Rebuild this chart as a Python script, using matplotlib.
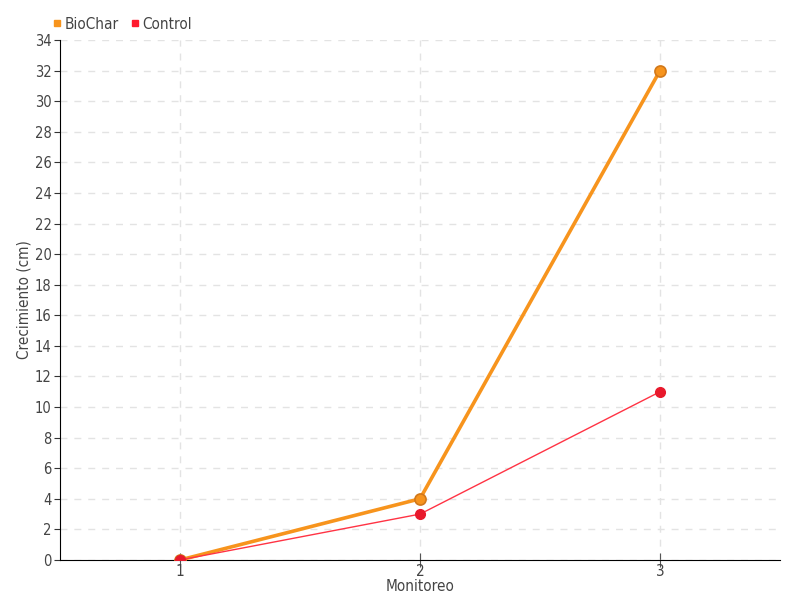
import matplotlib
matplotlib.use("Agg")
import matplotlib.pyplot as plt
from matplotlib.lines import Line2D

plt.rcParams["font.family"] = ["DejaVu Sans"]
plt.rcParams["font.stretch"] = "condensed"

monitoreo = [1, 2, 3]
biochar = [0, 4, 32]
control = [0, 3, 11]
y_ticks = list(range(0, 35, 2))

fig = plt.figure(figsize=(8, 6), dpi=100)
ax = fig.add_axes([0.075, 0.0667, 0.9, 0.8666])

ax.plot(monitoreo, biochar, color="#f7941d", linewidth=2.6, marker="o", markersize=8,
        markerfacecolor="#f7941d", markeredgecolor="#d2781a", markeredgewidth=1.2, zorder=3)
ax.plot(monitoreo, control, color="#ff3344", linewidth=1, marker="o", markersize=7,
        markerfacecolor="#e8192c", markeredgecolor="#e8192c", zorder=4)

ax.set_xlim(0.5, 3.5)
ax.set_ylim(0, 34)
ax.set_xticks(monitoreo)
ax.set_yticks(y_ticks)
ax.grid(True, color="#e3e3e3", linestyle=(0, (5, 5)), linewidth=1)
ax.set_axisbelow(True)
for s in ("top", "right"):
    ax.spines[s].set_visible(False)
ax.spines["left"].set_color("black")
ax.spines["bottom"].set_color("black")
ax.tick_params(axis="x", direction="inout", length=10, color="#555555", labelsize=11,
               labelcolor="#444444", pad=-2)
ax.tick_params(axis="y", direction="out", length=4, color="#333333", labelsize=10.5,
               labelcolor="#444444", pad=2)

ax.set_xlabel("Monitoreo", fontsize=11, color="#444444", labelpad=0)
ax.set_ylabel("Crecimiento (cm)", fontsize=11, color="#444444", labelpad=2)

handles = [
    Line2D([], [], linestyle="none", marker="s", markersize=5, color="#f7941d"),
    Line2D([], [], linestyle="none", marker="s", markersize=5, color="#ff1a2e"),
]
fig.legend(handles, ["BioChar", "Control"], loc="upper left", bbox_to_anchor=(0.047, 0.995),
           ncol=2, frameon=False, fontsize=11, handletextpad=0.1, columnspacing=0.6,
           handlelength=0.8, labelcolor="#444444")

fig.savefig("out.png", dpi=100)
